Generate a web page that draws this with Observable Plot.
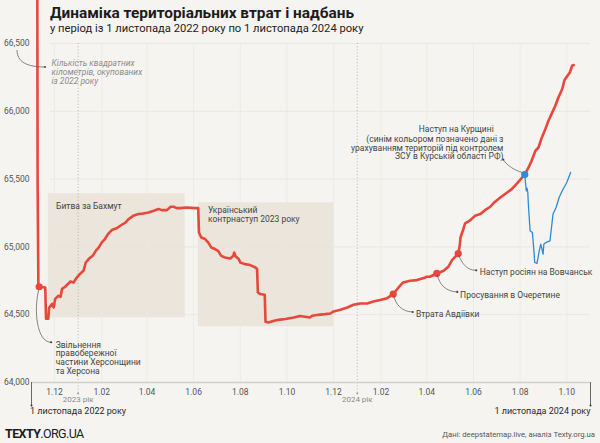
<!DOCTYPE html>
<html><head><meta charset="utf-8">
<script src="https://cdn.jsdelivr.net/npm/d3@7"></script>
<script src="https://cdn.jsdelivr.net/npm/@observablehq/plot@0.6"></script>
<style>
html,body{margin:0;padding:0;background:#f6f4f0;}
#wrap{width:600px;height:443px;overflow:hidden;}
#wrap svg{display:block;}
</style></head><body><div id="wrap"></div>
<script>
// ---------- data ----------
const titleText = "Динаміка територіальних втрат і надбань";
const subtitleText = "у період із 1 листопада 2022 року по 1 листопада 2024 року";
const sourceText = "Дані: deepstatemap.live, аналіз Texty.org.ua";
const brandBold = "TEXTY";
const brandRest = ".ORG.UA";
const startDate = "2022-11-01";
const endDate = "2024-11-01";
const endLabels = ["1 листопада 2022 року", "1 листопада 2024 року"];
const yTicks = [64000, 64500, 65000, 65500, 66000, 66500];
const monthTicks = ["2022-12-01","2023-02-01","2023-04-01","2023-06-01","2023-08-01","2023-10-01",
  "2023-12-01","2024-02-01","2024-04-01","2024-06-01","2024-08-01","2024-10-01"];
const yearDates = ["2023-01-01", "2024-01-01"];
const yearLabels = ["2023 рік", "2024 рік"];
const noteText = "Кількість квадратних\nкілометрів, окупованих\nіз 2022 року";

const redDates = ["2022-11-01","2022-11-08","2022-11-09","2022-11-10","2022-11-11","2022-11-19","2022-11-20","2022-11-23","2022-11-24","2022-11-28",
"2022-11-30","2022-12-02","2022-12-06","2022-12-09","2022-12-11","2022-12-15","2022-12-19","2022-12-22","2022-12-26","2022-12-30",
"2023-01-04","2023-01-08","2023-01-11","2023-01-15","2023-01-20","2023-01-24","2023-01-28","2023-02-01","2023-02-05","2023-02-09",
"2023-02-14","2023-02-21","2023-02-25","2023-03-04","2023-03-08","2023-03-14","2023-03-21","2023-03-27","2023-04-03","2023-04-10",
"2023-04-16","2023-04-21","2023-04-27","2023-05-02","2023-05-06","2023-05-10","2023-05-15","2023-05-23","2023-06-03","2023-06-07",
"2023-06-08","2023-06-11","2023-06-16","2023-06-20","2023-06-24","2023-06-29","2023-07-03","2023-07-07","2023-07-12","2023-07-19",
"2023-07-23","2023-07-24","2023-07-26","2023-07-30","2023-08-01","2023-08-07","2023-08-14","2023-08-21","2023-08-23","2023-08-24",
"2023-08-27","2023-09-02","2023-09-03","2023-09-07","2023-09-13","2023-09-20","2023-09-29","2023-10-10","2023-10-18","2023-10-25",
"2023-10-31","2023-11-03","2023-11-11","2023-11-20","2023-11-27","2023-12-01","2023-12-10","2023-12-19","2023-12-27","2024-01-05",
"2024-01-14","2024-01-22","2024-01-31","2024-02-09","2024-02-17","2024-02-24","2024-03-01","2024-03-10","2024-03-19","2024-03-28",
"2024-04-01","2024-04-05","2024-04-14","2024-04-23","2024-04-29","2024-05-04","2024-05-12","2024-05-14","2024-05-15","2024-05-18",
"2024-05-21","2024-05-27","2024-06-03","2024-06-10","2024-06-16","2024-06-23","2024-06-28","2024-07-06","2024-07-15","2024-07-21",
"2024-07-28","2024-08-07","2024-08-12","2024-08-16","2024-08-21","2024-08-25","2024-08-29","2024-09-03","2024-09-07","2024-09-11",
"2024-09-16","2024-09-20","2024-09-25","2024-09-28","2024-10-01","2024-10-05","2024-10-08","2024-10-10"];
const redValues = [69000,69000,65487,64710,64706,64700,64470,64470,64551,64580,
64553,64617,64639,64632,64691,64706,64728,64745,64738,64772,
64804,64824,64885,64912,64934,64971,64996,65033,65058,65094,
65124,65139,65156,65180,65205,65229,65242,65246,65254,65266,
65279,65271,65271,65296,65296,65286,65286,65291,65286,65286,
65106,65069,65058,65033,64996,64984,64971,64934,64922,64914,
64934,64959,64929,64910,64885,64873,64866,64848,64836,64664,
64652,64647,64448,64443,64453,64462,64468,64479,64490,64485,
64479,64492,64499,64504,64509,64524,64536,64553,64573,64583,
64583,64597,64608,64622,64652,64701,64738,64750,64755,64770,
64780,64780,64804,64824,64853,64903,64951,65008,65069,65119,
65173,65193,65229,65242,65271,65296,65328,65364,65401,65426,
65468,65534,65586,65635,65709,65733,65802,65869,65930,65979,
66041,66102,66164,66230,66255,66286,66336,66341];

const kurskDates = ["2024-08-07","2024-08-09","2024-08-10","2024-08-11","2024-08-12","2024-08-14","2024-08-17","2024-08-19","2024-08-20","2024-08-23",
"2024-08-26","2024-08-28","2024-08-31","2024-09-01","2024-09-04","2024-09-09","2024-09-11","2024-09-13","2024-09-17","2024-09-21",
"2024-09-25","2024-10-01","2024-10-06"];
const kurskValues = [65534,65414,65434,65401,65291,65119,65106,64971,64885,64878,
64971,65021,64947,65021,65033,65045,65143,65242,65291,65364,
65414,65475,65549];

const periodLabels = ["Битва за Бахмут", "Український\nконтрнаступ 2023 року"];
const periodStarts = ["2022-11-23", "2023-06-07"];
const periodEnds = ["2023-05-21", "2023-12-02"];
const periodLows = [64477, 64411];
const periodHighs = [65392, 65325];

const eventDates = ["2022-11-11", "2024-02-17", "2024-04-14", "2024-05-12", "2024-08-07"];
const eventLabels = ["Звільнення\nправобережної\nчастини Херсонщини\nта Херсона", "Втрата Авдіївки",
  "Просування в Очеретине", "Наступ росіян на Вовчанськ", "Наступ на Курщині"];
const kurskNote = "(синім кольором позначено дані з\nурахуванням територій під контролем\nЗСУ в Курській області РФ)";

// ---------- build ----------
const parse = d3.utcParse("%Y-%m-%d");
const RED = "#e8473b", BLUE = "#2d8ad6", TXT = "#444", GREY = "#555";
const FONT = "Roboto, 'Noto Sans', sans-serif";
const series = redDates.map((d, i) => ({date: parse(d), value: redValues[i]}));
const kursk = kurskDates.map((d, i) => ({date: parse(d), value: kurskValues[i]}));
const periods = periodLabels.map((l, i) => ({label: l, start: parse(periodStarts[i]), end: parse(periodEnds[i]), low: periodLows[i], high: periodHighs[i]}));
const byDate = new Map(series.map(d => [+d.date, d.value]));
const events = eventDates.map((d, i) => ({date: parse(d), value: byDate.get(+parse(d)), label: eventLabels[i], kursk: i === 4}));
const xDomain = [parse(startDate), parse(endDate)];
const ends = xDomain.map((d, i) => ({date: d, label: endLabels[i]}));
const years = yearDates.map((d, i) => ({date: parse(d), label: yearLabels[i]}));
const months = monthTicks.map(parse);

// label placement (pixels relative to event dots)
const place = [
  {dx: 16.5, dy: 54.5, anchor: "start", line: "top"},
  {dx: 22.7, dy: 20, anchor: "start", line: "middle"},
  {dx: 23.3, dy: 21.3, anchor: "start", line: "middle"},
  {dx: 21.6, dy: 19, anchor: "start", line: "middle"},
  {dx: -31, dy: -45.4, anchor: "end", line: "middle"}
];
const periodPlace = [{dx: 7.7, dy: 8.7}, {dx: 9.7, dy: 3.7}];
const FS = 8.5;

const marks = [
  Plot.rect(periods, {x1: "start", x2: "end", y1: "low", y2: "high", fill: "#ebe5dc"}),
  Plot.ruleY(yTicks.slice(1), {stroke: "#e7e4df", strokeWidth: 0.8, insetLeft: 19}),
  Plot.ruleX(months, {y1: yTicks[0], y2: yTicks[yTicks.length - 1], stroke: "#ebe8e3", strokeWidth: 0.8}),
  Plot.ruleX(years, {x: "date", y1: yTicks[yTicks.length - 1], y2: yTicks[0], insetBottom: -11, stroke: "#9a9a9a", strokeWidth: 0.7, strokeDasharray: "1,2.2"}),
  Plot.ruleY([yTicks[0]], {stroke: "#d2cfca", strokeWidth: 1.5}),
  Plot.ruleX(ends, {x: "date", y1: yTicks[0], y2: yTicks[0], insetBottom: -23, stroke: "#444", strokeWidth: 0.8}),
  Plot.dot(ends, {x: "date", frameAnchor: "bottom", dy: 23, r: 1, fill: "#333"}),
  Plot.dot(years, {x: "date", frameAnchor: "bottom", dy: 11, r: 0.9, fill: "#999"}),
  Plot.text(years, {x: "date", text: "label", frameAnchor: "bottom", dy: 19.5, fontSize: 8, fill: "#8a8a8a"}),
  Plot.text(ends.slice(0, 1), {x: "date", text: "label", frameAnchor: "bottom", dy: 31.5, textAnchor: "start", dx: -1.5, fontSize: 9, fill: "#2a2a2a"}),
  Plot.text(ends.slice(1), {x: "date", text: "label", frameAnchor: "bottom", dy: 31.5, textAnchor: "end", dx: 0, fontSize: 9, fill: "#2a2a2a"}),
  Plot.axisY(yTicks, {tickSize: 0, tickPadding: 2, tickFormat: d3.format(","), fontSize: 8.5, fill: GREY, label: null}),
  Plot.axisX(months, {tickSize: 0, tickPadding: 6, tickFormat: d => "1." + String(d.getUTCMonth() + 1).padStart(2, "0"), fontSize: 8.5, fill: GREY, label: null}),
  ...periods.map((p, i) => Plot.text([p], {x: "start", y: "high", text: "label", textAnchor: "start", lineAnchor: "top", lineHeight: 1.06, dx: periodPlace[i].dx, dy: periodPlace[i].dy, fontSize: FS, fill: TXT})),
  Plot.line(series, {x: "date", y: "value", stroke: RED, strokeWidth: 2.6, strokeLinejoin: "round", clip: true}),
  Plot.line(kursk, {x: "date", y: "value", stroke: BLUE, strokeWidth: 1.3, strokeLinejoin: "round", clip: true}),
  Plot.dot(events, {x: "date", y: "value", r: 3.6, fill: d => d.kursk ? BLUE : RED}),
  ...events.map((e, i) => Plot.text([e], {x: "date", y: "value", text: "label", textAnchor: place[i].anchor, lineAnchor: place[i].line, lineHeight: 1.04, dx: place[i].dx, dy: place[i].dy, fontSize: FS, fill: TXT})),
  Plot.text([events[4]], {x: "date", y: "value", text: () => kurskNote, textAnchor: "end", lineAnchor: "top", lineHeight: 1.04, dx: -21.3, dy: -39, fontSize: FS, fill: TXT}),
  Plot.text([noteText], {frameAnchor: "top-left", text: d => d, textAnchor: "start", lineAnchor: "top", lineHeight: 1.06, dx: 20, dy: 59.5, fontSize: FS, fontStyle: "italic", fill: "#8c8c8c"})
];

const chart = Plot.plot({
  width: 600, height: 443,
  marginLeft: 31, marginRight: 10, marginTop: 0, marginBottom: 61,
  style: {background: "transparent", fontFamily: FONT, overflow: "hidden"},
  x: {type: "utc", domain: xDomain},
  y: {domain: [64000, 66817]},
  marks
});
document.getElementById("wrap").appendChild(chart);

// ---------- connectors & headings (positioned through plot scales) ----------
const sx = chart.scale("x"), sy = chart.scale("y");
const fx = sx.apply ? d => sx.apply(d) : d3.scaleUtc(sx.domain, sx.range);
const fy = sy.apply ? d => sy.apply(d) : d3.scaleLinear(sy.domain, sy.range);
const svg = d3.select(chart);
const g = svg.append("g").attr("fill", "none").attr("stroke", "#555").attr("stroke-width", 0.7);
// connector shapes: start offset, c1, c2, end (pixels relative to dot)
const conn = [
  [[0, 4], [-5, 24], [-2, 56], [12.5, 56]],
  [[1, 2], [3, 11], [9, 18], [20, 18.4]],
  [[1, 2], [3, 11], [9, 18.5], [21, 19]],
  [[1, 2], [4, 10], [9, 17.3], [18.5, 17.3]],
  [[-2, -1.5], [-9, -3.5], [-17, -8], [-21, -14.4]]
];
events.forEach((e, i) => {
  const px = fx(e.date), py = fy(e.value), c = conn[i];
  const P = c.map(([a, b]) => [px + a, py + b]);
  g.append("path").attr("d", `M${P[0]}C${P[1]} ${P[2]} ${P[3]}`);
  g.append("circle").attr("cx", P[3][0]).attr("cy", P[3][1]).attr("r", 1.1).attr("fill", "#444").attr("stroke", "none");
});
{
  const y0 = fy(yTicks[yTicks.length - 1]);
  const P = [[17, y0 + 7], [17, y0 + 19], [27, y0 + 24], [45, y0 + 24]];
  g.append("path").attr("d", `M${P[0]}C${P[1]} ${P[2]} ${P[3]}`);
  g.append("circle").attr("cx", P[3][0]).attr("cy", P[3][1]).attr("r", 1.1).attr("fill", "#555").attr("stroke", "none");
}
const t = svg.append("g").attr("font-family", FONT).attr("text-anchor", "start");
t.append("text").attr("x", 50).attr("y", 18.3).attr("font-size", 15.4).attr("font-weight", 700).attr("fill", "#1c1c1c").text(titleText);
t.append("text").attr("x", 50).attr("y", 31.7).attr("font-size", 11.2).attr("fill", "#222").text(subtitleText);
const b = t.append("text").attr("x", 5).attr("y", 438).attr("font-size", 12.5).attr("fill", "#1c1c1c").attr("letter-spacing", -0.6);
b.append("tspan").attr("font-weight", 700).text(brandBold);
b.append("tspan").text(brandRest);
t.append("text").attr("x", 595).attr("y", 437).attr("text-anchor", "end").attr("font-size", 7.7).attr("fill", "#555").text(sourceText);
</script>
</body></html>
